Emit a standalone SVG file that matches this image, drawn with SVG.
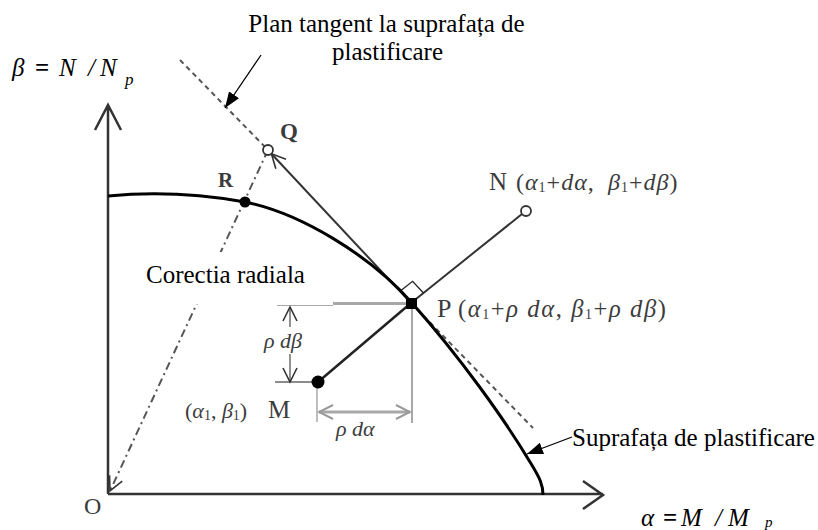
<svg xmlns="http://www.w3.org/2000/svg" width="818" height="530" viewBox="0 0 818 530">
<defs>
<style>
text{font-family:"Liberation Serif","Times New Roman",serif}
.lbl{font-size:25px;fill:#000}
.pt{fill:#3c3c3c}
.it{font-style:italic}
.sub{font-size:14px;font-style:normal}
.ax{stroke:#333;stroke-width:2.5;fill:none}
.dash{stroke:#555;stroke-width:2;stroke-dasharray:5,4;fill:none}
.thin{stroke:#222;stroke-width:1.3;fill:none}
.gray{stroke:#a8a8a8;fill:none}
</style>
<marker id="arrF" markerUnits="userSpaceOnUse" markerWidth="16" markerHeight="12" viewBox="0 0 16 12" refX="16" refY="6" orient="auto"><path d="M0,0 L16,6 L0,12 Z" fill="#000"/></marker>
<marker id="chevD" markerUnits="userSpaceOnUse" markerWidth="18" markerHeight="16" viewBox="0 0 18 16" refX="16" refY="8" orient="auto"><path d="M2,1 L16,8 L2,15" fill="none" stroke="#333" stroke-width="1.6"/></marker>
<marker id="chevG" markerUnits="userSpaceOnUse" markerWidth="18" markerHeight="16" viewBox="0 0 18 16" refX="16" refY="8" orient="auto-start-reverse"><path d="M2,1 L16,8 L2,15" fill="none" stroke="#999" stroke-width="2"/></marker>
</defs>
<rect width="818" height="530" fill="#fff"/>

<g id="axes">
<path class="ax" d="M108,494 V106 M95,130 L108,105 L121,130"/>
<path class="ax" d="M108,494 H603 M583,481 L603,495 L583,509"/>
<text class="lbl it" y="76" font-size="31"><tspan x="12">β</tspan><tspan x="35" font-style="normal" font-weight="bold">=</tspan><tspan x="59">N</tspan><tspan x="88">/</tspan><tspan x="100">N</tspan><tspan x="125" y="85" font-size="17">p</tspan></text>
<text class="lbl it" y="526" font-size="27"><tspan x="641">α</tspan><tspan x="663" font-style="normal" font-weight="bold">=</tspan><tspan x="681">M</tspan><tspan x="715">/</tspan><tspan x="728">M</tspan><tspan x="765" y="527" font-size="15">p</tspan></text>
</g>

<g id="connectors">
<line class="dash" x1="180" y1="60" x2="268" y2="150"/>
<line class="dash" x1="411" y1="303" x2="533" y2="428"/>
<line x1="268" y1="150" x2="110" y2="491" stroke="#555" stroke-width="2" stroke-dasharray="8,4,2,4" marker-end="url(#chevD)"/>
<line x1="411" y1="303" x2="271.4" y2="153.7" stroke="#333" stroke-width="2" marker-end="url(#chevD)"/>
<line x1="411" y1="303" x2="522" y2="214" stroke="#333" stroke-width="2"/>
<line x1="318" y1="382" x2="411" y2="303" stroke="#222" stroke-width="2.5"/>
<polyline class="thin" points="400,291.3 412.6,281.3 423.5,293"/>
<line x1="261" y1="55" x2="225" y2="108" stroke="#000" stroke-width="1.3" marker-end="url(#arrF)"/>
<line x1="572" y1="437" x2="527" y2="454" stroke="#000" stroke-width="1.3" marker-end="url(#arrF)"/>
</g>

<g id="label-corectia">
<rect x="135" y="252" width="198" height="52" fill="#fff"/>
<text class="lbl" x="146" y="283">Corectia radiala</text>
</g>

<g id="dimensions">
<line class="gray" x1="333" y1="303.5" x2="411" y2="303.5" stroke-width="3"/>
<line class="gray" x1="277" y1="305.5" x2="333" y2="305.5" stroke-width="1"/>
<line class="gray" x1="412" y1="303" x2="412" y2="423" stroke-width="2"/>
<line class="gray" x1="317" y1="382" x2="317" y2="422" stroke-width="1.5"/>
<line x1="275" y1="382" x2="318" y2="382" stroke="#666" stroke-width="1.5"/>
<line x1="290" y1="327" x2="290" y2="307" stroke="#555" stroke-width="1.3" marker-end="url(#chevD)"/>
<line x1="290" y1="354" x2="290" y2="382" stroke="#555" stroke-width="1.3" marker-end="url(#chevD)"/>
<line x1="319" y1="412" x2="410" y2="412" stroke="#a8a8a8" stroke-width="3" marker-start="url(#chevG)" marker-end="url(#chevG)"/>
<text class="pt it" x="264" y="348" font-size="22">ρ dβ</text>
<text class="pt it" x="336" y="436" font-size="22">ρ dα</text>
</g>

<g id="curve">
<path d="M108,196 C150,192 200,194 245,202 C300,213 370,255 412,303 C460,357 505,420 530,462 C540,478 543,485 543,495" fill="none" stroke="#000" stroke-width="3"/>
<text class="lbl" x="572" y="446" font-size="24.2">Suprafața de plastificare</text>
</g>

<g id="tangent-label">
<text class="lbl" x="386.5" y="32" text-anchor="middle">Plan tangent la suprafața de</text>
<text class="lbl" x="387.5" y="60" text-anchor="middle">plastificare</text>
</g>

<g id="node-O"><text class="pt" x="84" y="514" font-size="24">O</text></g>
<g id="node-R"><circle cx="245" cy="202" r="5.5" fill="#000"/><text class="pt" x="218" y="187" font-size="21" font-weight="bold">R</text></g>
<g id="node-Q"><circle cx="268" cy="150" r="5" fill="#fff" stroke="#333" stroke-width="1.8"/><text class="pt" x="280" y="139" font-size="23" font-weight="bold">Q</text></g>
<g id="node-N"><circle cx="526" cy="211" r="5" fill="#fff" stroke="#333" stroke-width="1.8"/>
<text class="pt" y="190" font-size="24" letter-spacing="1"><tspan x="489" font-size="25">N</tspan><tspan x="516">(</tspan><tspan class="it">α</tspan><tspan class="sub" dy="2">1</tspan><tspan dy="-2">+</tspan><tspan class="it">dα</tspan><tspan>,</tspan><tspan x="608" class="it">β</tspan><tspan class="sub" dy="2">1</tspan><tspan dy="-2">+</tspan><tspan class="it">dβ</tspan><tspan>)</tspan></text></g>
<g id="node-P"><rect x="406" y="298" width="11" height="11" fill="#000"/>
<text class="pt" y="317" font-size="24.5" letter-spacing="1.6"><tspan x="437" font-size="26">P</tspan><tspan x="458">(</tspan><tspan class="it">α</tspan><tspan class="sub" dy="2">1</tspan><tspan dy="-2">+</tspan><tspan class="it">ρ dα</tspan><tspan>, </tspan><tspan class="it">β</tspan><tspan class="sub" dy="2">1</tspan><tspan dy="-2">+</tspan><tspan class="it">ρ dβ</tspan><tspan>)</tspan></text></g>
<g id="node-M"><circle cx="318" cy="382" r="6.5" fill="#000"/>
<text class="pt" y="418" font-size="22"><tspan x="185">(</tspan><tspan class="it">α</tspan><tspan class="sub" font-size="13" dy="2">1</tspan><tspan dy="-2">, </tspan><tspan class="it">β</tspan><tspan class="sub" font-size="13" dy="2">1</tspan><tspan dy="-2">)</tspan><tspan x="268" font-size="25">M</tspan></text></g>
</svg>
